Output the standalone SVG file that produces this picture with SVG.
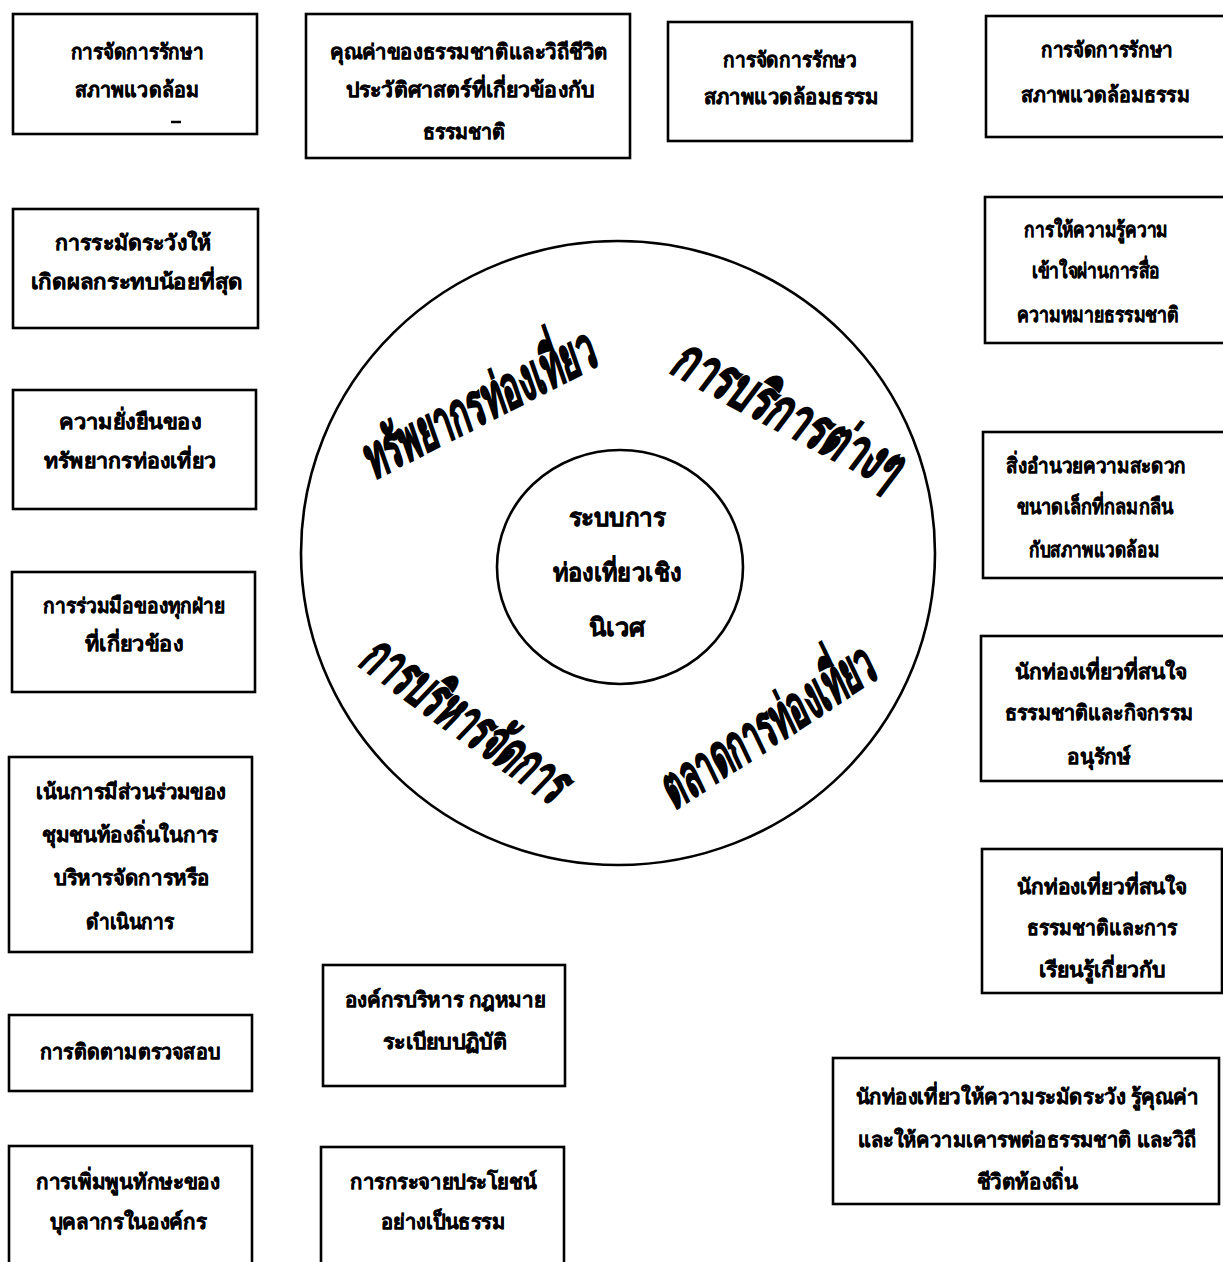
<svg xmlns="http://www.w3.org/2000/svg" width="1223" height="1262" viewBox="0 0 1223 1262">
<style>
.box{fill:#fff;stroke:#000;stroke-width:2.6}
.t{font-family:"Noto Sans","DejaVu Sans",sans-serif;font-weight:bold;font-size:21px;text-anchor:middle;fill:#000;stroke:#000;stroke-width:0.4}
.c{font-size:25px}
.ring{fill:none;stroke:#000;stroke-width:2.6}
.big{font-family:"Noto Sans","DejaVu Sans",sans-serif;font-weight:bold;font-style:italic;font-size:58px;text-anchor:middle;fill:#000;stroke:#000;stroke-width:1.8}
</style>
<rect width="1223" height="1262" fill="#fff"/>
<g id="rings">
<ellipse class="ring" cx="618" cy="553" rx="317" ry="312"/>
</g>
<g id="center">
<ellipse class="ring" cx="620" cy="567" rx="123" ry="117" stroke-width="2"/>
<text class="t c" x="617" y="526" textLength="97" lengthAdjust="spacingAndGlyphs">ระบบการ</text>
<text class="t c" x="617" y="581" textLength="128" lengthAdjust="spacingAndGlyphs">ท่องเที่ยวเชิง</text>
<text class="t c" x="617" y="636" textLength="57" lengthAdjust="spacingAndGlyphs">นิเวศ</text>
</g>
<g id="ring-labels">
<text class="big" transform="translate(478,406) rotate(-27)" y="18" textLength="255" lengthAdjust="spacingAndGlyphs">ทรัพยากรท่องเที่ยว</text>
<text class="big" transform="translate(787,414) rotate(28)" y="18" textLength="250" lengthAdjust="spacingAndGlyphs">การบริการต่างๆ</text>
<text class="big" transform="translate(465,720) rotate(36)" y="18" textLength="240" lengthAdjust="spacingAndGlyphs">การบริหารจัดการ</text>
<text class="big" transform="translate(767,728) rotate(-33)" y="18" textLength="245" lengthAdjust="spacingAndGlyphs">ตลาดการท่องเที่ยว</text>
</g>
<g id="n1"><rect class="box" x="13" y="14" width="244" height="120"/>
<text class="t" x="137" y="59" textLength="133" lengthAdjust="spacingAndGlyphs">การจัดการรักษา</text><text class="t" x="137" y="97" textLength="124" lengthAdjust="spacingAndGlyphs">สภาพแวดล้อม</text>
<path d="M171 122 L181 122" stroke="#000" stroke-width="2.5"/></g>
<g id="n2"><rect class="box" x="306" y="14" width="324" height="144"/>
<text class="t" x="469" y="59" textLength="278" lengthAdjust="spacingAndGlyphs">คุณค่าของธรรมชาติและวิถีชีวิต</text><text class="t" x="470" y="97" textLength="248" lengthAdjust="spacingAndGlyphs">ประวัติศาสตร์ที่เกี่ยวข้องกับ</text><text class="t" x="464" y="139" textLength="83" lengthAdjust="spacingAndGlyphs">ธรรมชาติ</text></g>
<g id="n3"><rect class="box" x="668" y="22" width="244" height="119"/>
<text class="t" x="790" y="67" textLength="134" lengthAdjust="spacingAndGlyphs">การจัดการรักษว</text><text class="t" x="791" y="104" textLength="175" lengthAdjust="spacingAndGlyphs">สภาพแวดล้อมธรรม</text></g>
<g id="n4"><rect class="box" x="986" y="16" width="240" height="121"/>
<text class="t" x="1107" y="57" textLength="132" lengthAdjust="spacingAndGlyphs">การจัดการรักษา</text><text class="t" x="1105" y="102" textLength="169" lengthAdjust="spacingAndGlyphs">สภาพแวดล้อมธรรม</text></g>
<g id="n5"><rect class="box" x="13" y="209" width="245" height="119"/>
<text class="t" x="133" y="250" textLength="156" lengthAdjust="spacingAndGlyphs">การระมัดระวังให้</text><text class="t" x="137" y="289" textLength="212" lengthAdjust="spacingAndGlyphs">เกิดผลกระทบน้อยที่สุด</text></g>
<g id="n6"><rect class="box" x="13" y="390" width="243" height="119"/>
<text class="t" x="130" y="429" textLength="142" lengthAdjust="spacingAndGlyphs">ความยั่งยืนของ</text><text class="t" x="130" y="468" textLength="172" lengthAdjust="spacingAndGlyphs">ทรัพยากรท่องเที่ยว</text></g>
<g id="n7"><rect class="box" x="12" y="572" width="243" height="120"/>
<text class="t" x="134" y="613" textLength="182" lengthAdjust="spacingAndGlyphs">การร่วมมือของทุกฝ่าย</text><text class="t" x="134" y="651" textLength="98" lengthAdjust="spacingAndGlyphs">ที่เกี่ยวข้อง</text></g>
<g id="n8"><rect class="box" x="9" y="757" width="243" height="195"/>
<text class="t" x="131" y="799" textLength="190" lengthAdjust="spacingAndGlyphs">เน้นการมีส่วนร่วมของ</text><text class="t" x="130" y="842" textLength="176" lengthAdjust="spacingAndGlyphs">ชุมชนท้องถิ่นในการ</text><text class="t" x="132" y="885" textLength="156" lengthAdjust="spacingAndGlyphs">บริหารจัดการหรือ</text><text class="t" x="130" y="929" textLength="88" lengthAdjust="spacingAndGlyphs">ดำเนินการ</text></g>
<g id="n9"><rect class="box" x="9" y="1015" width="243" height="76"/>
<text class="t" x="130" y="1059" textLength="180" lengthAdjust="spacingAndGlyphs">การติดตามตรวจสอบ</text></g>
<g id="n10"><rect class="box" x="9" y="1146" width="243" height="130"/>
<text class="t" x="128" y="1189" textLength="184" lengthAdjust="spacingAndGlyphs">การเพิ่มพูนทักษะของ</text><text class="t" x="128" y="1229" textLength="157" lengthAdjust="spacingAndGlyphs">บุคลากรในองค์กร</text></g>
<g id="n11"><rect class="box" x="323" y="965" width="242" height="121"/>
<text class="t" x="445" y="1007" textLength="201" lengthAdjust="spacingAndGlyphs">องค์กรบริหาร กฎหมาย</text><text class="t" x="445" y="1049" textLength="124" lengthAdjust="spacingAndGlyphs">ระเบียบปฏิบัติ</text></g>
<g id="n12"><rect class="box" x="321" y="1147" width="243" height="130"/>
<text class="t" x="443" y="1189" textLength="186" lengthAdjust="spacingAndGlyphs">การกระจายประโยชน์</text><text class="t" x="443" y="1229" textLength="124" lengthAdjust="spacingAndGlyphs">อย่างเป็นธรรม</text></g>
<g id="n13"><rect class="box" x="985" y="197" width="245" height="146"/>
<text class="t" x="1096" y="237" textLength="144" lengthAdjust="spacingAndGlyphs">การให้ความรู้ความ</text><text class="t" x="1096" y="278" textLength="128" lengthAdjust="spacingAndGlyphs">เข้าใจผ่านการสื่อ</text><text class="t" x="1098" y="322" textLength="162" lengthAdjust="spacingAndGlyphs">ความหมายธรรมชาติ</text></g>
<g id="n14"><rect class="box" x="983" y="432" width="250" height="146"/>
<text class="t" x="1096" y="473" textLength="180" lengthAdjust="spacingAndGlyphs">สิ่งอำนวยความสะดวก</text><text class="t" x="1095" y="514" textLength="156" lengthAdjust="spacingAndGlyphs">ขนาดเล็กที่กลมกลืน</text><text class="t" x="1094" y="557" textLength="130" lengthAdjust="spacingAndGlyphs">กับสภาพแวดล้อม</text></g>
<g id="n15"><rect class="box" x="981" y="636" width="250" height="145"/>
<text class="t" x="1101" y="679" textLength="172" lengthAdjust="spacingAndGlyphs">นักท่องเที่ยวที่สนใจ</text><text class="t" x="1099" y="720" textLength="188" lengthAdjust="spacingAndGlyphs">ธรรมชาติและกิจกรรม</text><text class="t" x="1099" y="764" textLength="64" lengthAdjust="spacingAndGlyphs">อนุรักษ์</text></g>
<g id="n16"><rect class="box" x="982" y="849" width="240" height="144"/>
<text class="t" x="1102" y="894" textLength="170" lengthAdjust="spacingAndGlyphs">นักท่องเที่ยวที่สนใจ</text><text class="t" x="1102" y="935" textLength="150" lengthAdjust="spacingAndGlyphs">ธรรมชาติและการ</text><text class="t" x="1102" y="977" textLength="126" lengthAdjust="spacingAndGlyphs">เรียนรู้เกี่ยวกับ</text></g>
<g id="n17"><rect class="box" x="833" y="1058" width="386" height="146"/>
<text class="t" x="1027" y="1104" textLength="343" lengthAdjust="spacingAndGlyphs">นักท่องเที่ยวให้ความระมัดระวัง รู้คุณค่า</text><text class="t" x="1027" y="1147" textLength="339" lengthAdjust="spacingAndGlyphs">และให้ความเคารพต่อธรรมชาติ และวิถี</text><text class="t" x="1027" y="1189" textLength="101" lengthAdjust="spacingAndGlyphs">ชีวิตท้องถิ่น</text></g>
</svg>
